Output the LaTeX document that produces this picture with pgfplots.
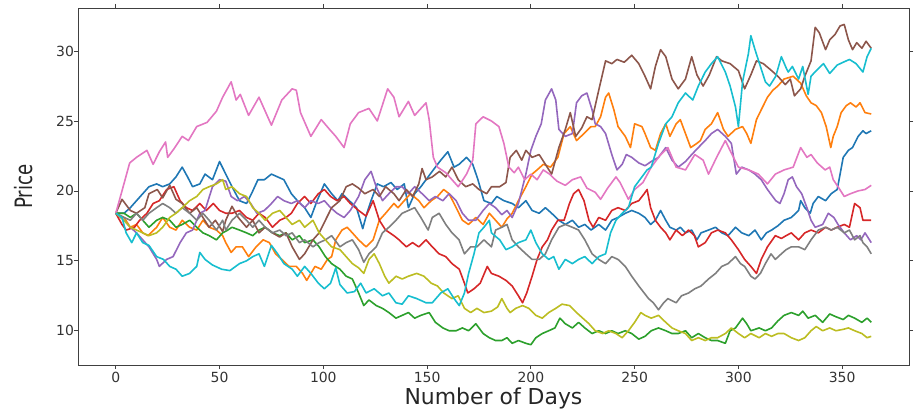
\documentclass[border=0pt]{standalone}
\usepackage{pgfplots}
\pgfplotsset{compat=1.18}
\usepackage{graphicx}
\usepackage{fontspec}
\setmainfont{DejaVu Sans}

\definecolor{c0}{HTML}{1F77B4}
\definecolor{c1}{HTML}{FF7F0E}
\definecolor{c2}{HTML}{2CA02C}
\definecolor{c3}{HTML}{D62728}
\definecolor{c4}{HTML}{9467BD}
\definecolor{c5}{HTML}{8C564B}
\definecolor{c6}{HTML}{E377C2}
\definecolor{c7}{HTML}{7F7F7F}
\definecolor{c8}{HTML}{BCBD22}
\definecolor{c9}{HTML}{17BECF}

\begin{document}
\begin{tikzpicture}
\begin{axis}[
    name=ax,
    scale only axis,
    width=831bp, height=357bp,
    xmin=-18.2, xmax=382.2,
    ymin=7.55, ymax=33.08,
    xtick={0,50,...,350},
    ytick={10,15,...,30},
    tick align=outside,
    major tick length=4bp,
    tick style={black!75, line width=0.8bp},
    axis line style={black!75, line width=0.8bp},
    /pgf/number format/assume math mode=true,
    ticklabel style={font=\fontsize{14}{16}\selectfont, text=black!80},
    yticklabel style={xshift=3.5bp},
    xlabel={Number of Days},
    ylabel={\scalebox{0.76}[1]{Price}},
    every axis x label/.style={at={(axis description cs:0.5,0)}, anchor=base, yshift=-39bp, font=\fontsize{22}{26}\selectfont, text=black!85},
    every axis y label/.style={at={(axis description cs:-0.065,0.5)}, rotate=90, anchor=center, font=\fontsize{24}{28}\selectfont, text=black!85},
    every axis plot/.append style={line width=1.6bp, line join=round, no markers},
]
% C0 blue
\addplot[c0] coordinates {(0,18.4) (4,18.4) (7,18.8) (10,19.3) (13,19.8) (16,20.3) (19.7,20.5) (22.6,20.3) (26,20.5) (29,21) (32,21.7) (34.6,21) (37,20.3) (40.5,20.5) (43,21.2) (46.6,20.8) (50,22.1) (53,21.2) (56,20.3) (59.6,19.3) (63,19.1) (65.4,19.8) (68.5,20.8) (71.6,20.8) (75,21.2) (78,21) (81,20.8) (84.6,19.8) (87.5,19.3) (91,18.8) (94,18.1) (97,19.3) (100.5,20.5) (104,19.8) (107,19.3) (109,19.8) (112.5,19.3) (116,18.8) (119,17.3) (121,18.4) (123,19.3) (126,20.5) (129,20.3) (132.6,20.6) (135.6,20.1) (139,20.5) (141,18.8) (144,19.8) (147,20.3) (149.5,20.8) (153,21.5) (156.6,22.2) (160,22.8) (163,21.7) (165.4,21.9) (169,22.4) (172,21.9) (174.5,20.8) (177.4,19.3) (181,19.1) (183.6,19.6) (187,19.3) (191,19.1) (194,18.8) (197.6,19.3) (200.6,18.6) (204,18.4) (207,18.8) (210,18.4) (213.5,17.9) (216.6,17.6) (220,17.9) (223,17.4) (226,17.6) (229,17.2) (232.7,17.6) (236,17.2) (239,17.9) (242,18.1) (245.5,18.4) (248.6,18.6) (252,18.4) (255,18.1) (257.7,17.6) (260,17.9) (262.5,18.6) (265,17.9) (267,17.4) (270,17.2) (272,17.4) (274.5,17) (277.5,17.2) (280,16.5) (282,17) (285.6,17.2) (289,17.4) (292,17) (295,16.8) (298.6,17.4) (301.6,17) (305,16.8) (308,17.2) (311,16.5) (313.5,17) (316,17.2) (319,17.5) (322,17.9) (325.5,18.1) (329,18.6) (330,19.3) (332,18.8) (334.6,18.4) (336,19.1) (338.5,19.6) (342,19.3) (344.7,19.8) (347.6,20.1) (349,21.2) (350.5,22.4) (353,22.9) (355,23.1) (357.7,23.9) (360,24.3) (361.5,24.1) (364,24.3)};
% C1 orange
\addplot[c1] coordinates {(0,18.4) (4,18.1) (7,17.4) (10,17.6) (13,17) (15.5,16.8) (19.7,17.4) (22.6,18.1) (26,17.4) (29,17.2) (32,17.9) (35.6,17.4) (39,17.2) (42,17.9) (45,17.4) (48.5,17.2) (51.5,16.8) (53,16.3) (55.6,15.6) (58,16) (61,16) (64,15.3) (67.6,16) (71,16.5) (74,16.3) (77,15.5) (80,15.1) (83.5,14.6) (87,14.6) (90,14.1) (92,13.6) (96,14.6) (99,14.4) (102,15.1) (104,15.3) (106,16.5) (109,17.2) (111.5,17.4) (114,17) (117,16.5) (120.6,16) (124,16.5) (127,17.9) (130,18.4) (134,19.1) (136,18.8) (139,19.3) (142,19.8) (146,19.3) (148.5,18.8) (152,19.3) (155,19.6) (158,20.1) (160.6,19.8) (164,18.8) (167,17.9) (170,17.6) (173.5,18.1) (177,17.6) (180,18.4) (183,17.9) (186,17.4) (188.5,18) (191,18.4) (194,19.3) (197.6,20.3) (200.6,21.2) (203,21.5) (206,21.9) (209.5,21.7) (213,22.4) (216,24.1) (219,24.6) (222,23.6) (225.6,24.1) (229,24.6) (231,24.6) (233.6,25.3) (236,26.7) (237.5,27) (240,25.8) (242,24.6) (245.5,23.9) (248,23.1) (250,24.8) (253.5,24.6) (255,24.1) (257.7,23.1) (260,22.9) (262.5,24.1) (265,24.8) (267,23.9) (270,24.8) (272,25.1) (274.5,24.1) (277,23.1) (280,23.4) (281.7,23.6) (284,24.4) (287,24.8) (290,25.6) (292.8,24.4) (295,23.9) (298.6,24.4) (302,24.6) (304,24.1) (306,23.4) (308.7,25.1) (311,25.8) (314,26.7) (316.6,27.2) (319,27.5) (322,28) (326.4,28.2) (330,27.7) (332.7,26.8) (335,26.3) (337.5,26.1) (340,25.6) (342.3,24.6) (344.5,23.1) (345.7,23.9) (347.6,24.6) (349.5,25.6) (352,26.1) (354,26.3) (356.7,26) (358.6,26.3) (361,25.6) (364,25.5)};
% C2 green
\addplot[c2] coordinates {(0,18.4) (4,18.4) (7,18.1) (10,18.4) (13,17.9) (16,17.4) (19.7,17.9) (22.6,18.1) (26,17.9) (29,17.4) (32,17.6) (35.6,17.9) (39,17.4) (42,17) (45,16.8) (48.5,16.5) (51.5,17) (54,17.2) (56,17.4) (59.6,17.2) (63,17) (66,16.8) (69,17.2) (72,17.4) (75.5,17) (79,16.8) (82,17) (85,16.5) (88.5,16.8) (91,16.3) (95,16.5) (98,16) (101,15.3) (104,14.8) (108,14.4) (111,13.9) (114,13.7) (117,12.7) (119.5,11.8) (122,12.2) (125.5,11.8) (128.5,11.6) (131.6,11.3) (135,10.9) (138,11.1) (141,11.3) (144,10.9) (147,11.1) (151,11.3) (154,10.6) (157.6,10.2) (160.6,10) (164,10) (167,10.2) (170,10) (173.5,10.5) (177,9.8) (180,9.5) (183,9.3) (186,9.3) (188.5,9.5) (191,9.1) (194,9.3) (197.6,9.1) (200,9) (202.4,9.5) (205.5,9.8) (208.6,10) (211.6,10.2) (214,10.9) (216.6,10.5) (220,10.2) (223,10.6) (226,10.2) (229.5,9.8) (232.7,10) (236,9.8) (239,10) (242,9.8) (245.5,10) (248.6,9.8) (252,9.4) (255,9.6) (258,10) (261.5,10.2) (265,10) (268,9.8) (271,9.8) (274.5,10) (277.5,9.5) (280.7,9.8) (284,9.5) (287,9.3) (290,9.3) (293.7,9.1) (296,10) (298.6,10.2) (302,10.9) (304,10.5) (306,10) (310,10.2) (313,10) (316,10.2) (319,10.7) (322,11.1) (325.5,11.3) (329,11.1) (331,11.4) (333.6,10.9) (337,11.1) (340.6,10.6) (344,11.2) (347,11) (350.5,10.8) (353,11.1) (356,10.9) (359.5,10.6) (362,10.9) (364,10.6)};
% C3 red
\addplot[c3] coordinates {(0,18.4) (3,17.6) (5,17.2) (9,17.4) (11.5,17.9) (15,18.4) (18,19.1) (21,19.3) (24.5,20.1) (28,20.3) (31,19.3) (34,18.8) (37,18.6) (40.5,19.1) (43.6,18.6) (47,19.1) (50,18.6) (53,18.4) (56,18.4) (59.6,18.6) (63,18.1) (66,17.9) (69,18.4) (72,18.1) (75.5,17.4) (79,17.9) (82,18.1) (84.6,18.4) (87.5,19.1) (91,19.6) (94,19.1) (97.6,19.8) (100.5,20.1) (103.5,19.6) (106.6,19.3) (110,19.6) (113,19.1) (117,18.6) (120.6,18.2) (124,19.3) (127,17.9) (130,17.2) (134,16.8) (136.5,16.5) (140,16) (143,16.3) (146,16) (149.5,16.5) (152.5,16) (155.8,15.5) (159,15.3) (162,14.8) (165.5,14.4) (168,13.4) (169.6,12.7) (172.6,13) (175.6,13.4) (179,14.6) (181,14.1) (184.6,13.9) (188,13.6) (191,13.2) (194,12.5) (196,12) (198,12.7) (200.6,13.9) (203,15.1) (205.5,16) (208,16.5) (210,17.2) (213,17.9) (216,17.9) (218.6,19.1) (220.6,19.8) (223,20.1) (225.6,19.3) (228,17.9) (230,17.4) (232.7,18.1) (236,17.9) (239,18.6) (242,18.8) (245.5,18.6) (248.6,19.1) (252,19.3) (254.6,19.8) (256,20.1) (257.7,18.8) (260,17.9) (262.5,17.4) (265,17) (267,16.5) (270,17.2) (273,16.8) (276,17.2) (278.8,16.8) (280.7,16) (284,16.3) (287,17) (290,17.2) (293.7,17) (296.6,16.5) (300,15.8) (303,15.1) (306,14.6) (308.7,14.1) (311,15.1) (314,16) (317.8,16.8) (320.7,16.6) (323,16.8) (325.5,17) (329,16.5) (332,17) (335,17.2) (338.5,17) (342,17.4) (344.7,17.2) (347.6,17.4) (351,17.6) (353.5,17.4) (356,19.1) (358.6,18.8) (360,17.9) (364,17.9)};
% C4 purple
\addplot[c4] coordinates {(0,18.4) (4,17.9) (7,17.4) (10,17) (13,16.5) (16,16) (19.7,15.1) (21,14.6) (24.5,15.1) (27.6,15.3) (31,16.3) (34,17) (37,17.2) (40.5,18.4) (43,18.6) (46.6,20.3) (50,20.8) (53,20.7) (55.6,19.6) (58.6,19.3) (62,19.6) (65,19.1) (68,18.4) (71.6,18.6) (75,19.1) (78,19.6) (81,19.3) (84.6,19.1) (87.5,19.3) (91,18.8) (94,19.3) (97.6,19.1) (100.5,19.3) (103.5,18.8) (106.6,18.4) (110,18.1) (113,18.6) (117,19.6) (120,20.8) (123,21.4) (125.5,20.3) (128.5,19.3) (131.6,19.8) (135,20.3) (138,20.3) (141,19.8) (144,20.3) (147.6,19.8) (151,19.3) (154,19.6) (157.6,19.3) (160.6,19.8) (164,19.3) (167,18.4) (170,17.9) (173.5,17.9) (177,18.6) (180,19.1) (183,18.8) (186,18.3) (188.5,18.6) (191,18.1) (194,19.1) (197.6,21.2) (200,22.9) (202.4,23.9) (205,24.8) (207,26.5) (210,27.3) (212,26.5) (213.5,24.4) (216.6,23.9) (220,24.1) (222,26.3) (224.5,26.8) (227,27) (229.5,25.8) (231,24.8) (233.6,24.6) (236,24.1) (239,22.6) (241.5,21.5) (244,21.9) (246,22.6) (248.6,22.4) (252,22) (255,21.8) (258,22.1) (261.5,22.4) (265,23.1) (268,22.2) (271,21.7) (274.5,22.1) (277.5,22.6) (280.7,23.1) (284,23.6) (287,24.1) (290,24.4) (293.7,23.9) (296.6,23.4) (299,21.2) (301.6,21.7) (305,21.5) (308,21.2) (311,20.8) (314,20.1) (318,19.3) (320,19.1) (322,19.8) (324,20.8) (326,21) (328,20.3) (330.5,19.8) (333,18.8) (335,17.9) (337,17.4) (340.6,17.6) (343.3,18.4) (346,18.1) (348,17.6) (351,17) (354,16.5) (357,16.8) (359,16.5) (361,17) (364,16.3)};
% C5 brown
\addplot[c5] coordinates {(0,18.4) (3,19.4) (7,18.6) (10,18.4) (14,18.8) (16,19.8) (20,20.1) (22.6,19.5) (26,20.4) (29,19.4) (32,19.1) (35.6,18.4) (39,18.8) (42,18.1) (45,17.4) (48,17.9) (51.5,17.1) (53,17.9) (56,18.9) (59,18.1) (63,17.4) (66,17.9) (69,17) (72,17.4) (75.5,17) (79,16.7) (82,17) (85,16) (88.5,15.1) (91,15.5) (95,16.5) (98,17) (101,17.9) (104,18.8) (108,19.3) (111,20.3) (114,20.5) (117,20.2) (120,19.8) (124,20.1) (127,19.6) (130,20.3) (134,19.8) (136.5,19.3) (140,20.1) (143,19.6) (146,20.5) (147.6,21.6) (149.5,20.8) (152.5,21) (156,21.4) (159,21) (162,21.7) (165,20.8) (168.6,20.3) (172,20.5) (175,20.1) (178.7,19.8) (181,20.3) (185,20.3) (188,20.6) (190,22.4) (193,22.9) (195.6,22.2) (197.6,22.9) (200.6,22.4) (204,22.6) (207,21.9) (210,21.2) (213.5,23.1) (216.6,24.4) (219,25.6) (221.6,23.9) (224.5,24.5) (227,25.3) (229.5,25.1) (232.7,27.2) (236,29.3) (239,29.1) (241.5,29.4) (245,29.2) (248.6,29.7) (252,29.1) (255,28.2) (257.7,27.3) (260,28.9) (262.5,30.1) (265,29.6) (268,28) (271,27.3) (274.5,28) (277.5,29.6) (280,28.3) (283,27.5) (286,28.3) (289.5,29.6) (292,29.3) (296,29.1) (300,28.6) (303,27.3) (306,28.3) (308.7,29.3) (312,29.1) (316,28.6) (319,28.2) (322.6,27.6) (325,28) (327,26.8) (330,27.3) (332,28.2) (335,29.3) (337,31.7) (339,31.3) (342,30.1) (344,30.8) (346.6,31.2) (349,31.8) (351,31.9) (353,30.8) (355,30.1) (357,30.6) (359.5,30.2) (361.5,30.7) (364,30.2)};
% C6 pink
\addplot[c6] coordinates {(0,18.4) (3,20) (6.7,22) (10,22.4) (15,22.9) (18,21.9) (21,22.8) (24,23.5) (25,22.4) (28,23) (32,23.9) (35,23.6) (39,24.6) (44,24.9) (48.5,25.7) (51.5,26.7) (55.6,27.8) (58,26.5) (60,26.9) (64,25.4) (69,26.7) (75,24.7) (80,26.5) (85,27.3) (87,27.2) (89,25.6) (94,23.9) (99,25.1) (103,24.4) (106,23.9) (110,23.1) (113,24.8) (117,25.6) (122,25.9) (126,25) (131,27.3) (134,26.7) (136.5,25.3) (141,26.4) (144,25.4) (149.5,26.3) (151,25.1) (153,22.4) (155,21.7) (159,21.3) (162,20.8) (165,20.3) (169,21.2) (172,22.2) (173.5,24.8) (177,25.3) (181,25) (184.6,24.6) (187,23.4) (189.4,21.7) (192,21.3) (194,21.7) (197,20.8) (200,21.2) (203,20.8) (206,21.5) (209,21.2) (212.5,20.7) (216.6,20.4) (220,20.8) (224,21) (227,20.2) (231,19.9) (233.6,19.4) (237,20.2) (241,21) (243,20.6) (247,19.4) (250,20.1) (254,20.6) (258,21.7) (262,22.5) (266,23.1) (270,21.7) (274.5,21.5) (279,22.6) (283,22.2) (285.6,21.2) (289.5,22.4) (293.7,23.6) (296.6,22.7) (300,21.7) (305,21.5) (309.6,21.2) (314,20.5) (317.8,21.2) (322,21.5) (326.4,21.7) (330,23.1) (333,22.4) (335,22.6) (338,22) (341.8,21.5) (344,21.7) (345.7,20.8) (348,20.3) (351,19.6) (354,19.8) (357.7,20) (361,20.1) (364,20.4)};
% C7 gray
\addplot[c7] coordinates {(0,18.4) (4,18.1) (7,17.9) (10,18.4) (13,17.9) (16,18.4) (19.7,18.8) (22.6,19.1) (26,18.8) (29,18.4) (32,18.8) (35.6,18.4) (39,17.9) (42,18.4) (45,17.9) (48.5,17.2) (51.5,17.9) (53,17.2) (56,17.9) (59.6,18.4) (63,17.9) (66,17.4) (69,17.9) (72,17.4) (75.5,17) (79,17.2) (82,16.8) (85,17) (88.5,16.3) (91,16.5) (95,16) (98,16.3) (101,16.5) (104,16.8) (108,16) (111,16.3) (114,16.5) (117,15.8) (119.5,14.9) (122,15.5) (125.5,16) (128.5,17) (131.6,17.4) (135,17.9) (138,18.4) (141,18.6) (144,18.8) (147,18.1) (150.5,17.2) (152.5,18.1) (155.8,18.4) (159,17.6) (162,17) (165.4,16.5) (168,15.5) (171,16) (174,16) (177.4,16.5) (181,16) (183,17.2) (186,17.4) (188.5,17.6) (191,16.5) (194,16) (197.6,15.5) (200.6,15.1) (204,15.1) (207,15.5) (210,16.5) (213.5,17.4) (216.6,17.6) (220,17.4) (223,17.2) (226,16.5) (229.5,15.5) (232.7,15.1) (236,14.8) (239,15.3) (242,15.1) (245.5,14.6) (248.6,13.9) (252,13.2) (254.6,12.7) (256.7,12.3) (259,12) (261.5,11.5) (264,12) (266,12.3) (270,12) (272.6,12.5) (276,12.7) (279,13) (282,13.2) (285.6,13.7) (289,14.1) (292,14.6) (295,14.8) (298.6,15.3) (301,14.8) (303,14.6) (306,13.9) (308,13.7) (310.6,14.1) (313,14.8) (315.7,15.5) (317.8,15.1) (320.7,15.5) (323,15.8) (325.5,16) (329,16) (332,15.8) (335,16.5) (338.5,17.2) (342,17.4) (344.7,17.2) (347.6,17.4) (351,17) (353.5,17.2) (356,16.5) (358.6,16.8) (360,16.3) (362,16) (364,15.5)};
% C8 olive
\addplot[c8] coordinates {(0,18.4) (4,17.9) (7,17.4) (10,17.2) (13,17) (16,16.8) (19.7,17) (22.6,17.4) (26,18.1) (29,18.4) (32,18.8) (35.6,19.3) (39,19.6) (42,20.1) (45,20.3) (48.5,20.5) (51.5,20.8) (53,20.1) (56,20.3) (59.6,19.8) (63,19.6) (66,18.8) (69,18.4) (72,17.9) (75.5,18.4) (79,18.6) (82,18.1) (85,17.6) (88.5,17.9) (91,17.4) (95,17.9) (98,17) (101,16.5) (104,16) (108,15.8) (111,15.3) (114,14.8) (117,14.5) (119.5,14.1) (122,15.1) (124.5,15.5) (127,14.8) (129.6,13.9) (131.6,13.4) (135,13.9) (138,13.7) (141,13.9) (145,14.1) (148.5,13.9) (152,13.4) (155,13.2) (158,12.7) (162,12.3) (165,12.5) (168,11.6) (171,11.3) (174,11.6) (177.4,11.3) (181,11.4) (184,11.7) (186,12.3) (188.5,11.6) (190,11.3) (192.7,11.6) (196,11.8) (199,11.6) (202.4,11.1) (205.5,10.9) (208.6,11.3) (212,11.6) (215,11.9) (218.6,11.8) (222,11.3) (225,10.9) (228,10.5) (231,10) (234.6,9.8) (237.5,10) (241,9.8) (244,9.5) (247,10) (250,10.6) (253,11.3) (255,11.1) (258,10.9) (261.5,11.1) (265,10.6) (268,10.2) (271,10) (274.5,9.8) (277.5,9.3) (280.7,9.5) (284,9.3) (287,9.5) (290,9.5) (293.7,9.8) (296.6,10.2) (300,9.8) (303,9.5) (306,9.8) (310,9.5) (313,9.8) (316,9.6) (319,9.8) (322,9.8) (325.5,9.5) (329,9.3) (332,9.5) (335,10) (337.5,10.3) (340.6,10) (344,10.2) (347,10) (350.5,10.1) (353,10.2) (356,10) (359.5,9.8) (362,9.5) (364,9.6)};
% C9 cyan
\addplot[c9] coordinates {(0,18.4) (3,18.1) (5,17) (7.7,16.3) (10,17) (13,16.3) (16,16.1) (19.7,15.3) (23,15.1) (26,14.6) (29,14.4) (32,13.9) (35.6,14.1) (39,14.6) (40.5,15.6) (43,15.1) (46.6,14.7) (51,14.4) (55,14.3) (59.6,14.8) (63,15) (66,15.3) (69,15.5) (71.6,14.6) (75,16.1) (78,15.5) (81,14.8) (85,14.4) (87.5,13.9) (91,14.6) (94,14.1) (97.6,13.4) (100.5,13) (103.5,13.4) (106,14.5) (108,13.3) (111.5,12.7) (115,12.8) (118,13.4) (120.6,12.7) (124.5,13) (128.5,12.5) (131.6,12.7) (135,12) (138,11.9) (141,12.5) (145,12.3) (149.5,12) (152.5,12) (156.6,12.7) (160,13) (163,12.3) (165.5,11.8) (168,12.7) (170,14.1) (172.6,15.5) (175,17) (177.4,17.4) (180,17.9) (181,17) (185,16.5) (188,15.8) (191,16) (194,16.3) (197.6,16.5) (200,17.2) (202.4,16.3) (205.5,15.5) (208.6,15.1) (211,15.3) (213.5,14.4) (216.6,15.1) (220,14.8) (223,15.1) (226,15.3) (229.5,14.8) (232.7,15.3) (236,15.5) (238.4,17) (241,17.9) (244,18.4) (247,18.8) (250,20.3) (253.5,21) (256,21.5) (258,21.7) (261.5,23.4) (265,24.8) (268,25.3) (271,26.3) (274.5,27) (278,26.5) (280.7,27.5) (284,28.5) (287,29.1) (290,29.6) (293.7,28.5) (296,27.5) (298.6,26) (300,24.6) (302,27.8) (304.8,29.8) (306,31.1) (308,30.1) (310.6,28.9) (313,27.8) (315,27.5) (318,28.2) (320.7,29.6) (323,28.8) (324,28.5) (326,28.9) (329,28) (331,28.9) (333.6,26.9) (335,28.2) (337.5,28.6) (341,29.1) (344,28.4) (347.6,29) (350.5,29.2) (353.5,29.4) (356.7,29.1) (360,28.5) (362,29.6) (364,30.2)};
\end{axis}
\pgfresetboundingbox
\path[use as bounding box] ([xshift=-78bp,yshift=-45bp]ax.south west) rectangle ([xshift=11bp,yshift=8bp]ax.north east);
\end{tikzpicture}
\end{document}
